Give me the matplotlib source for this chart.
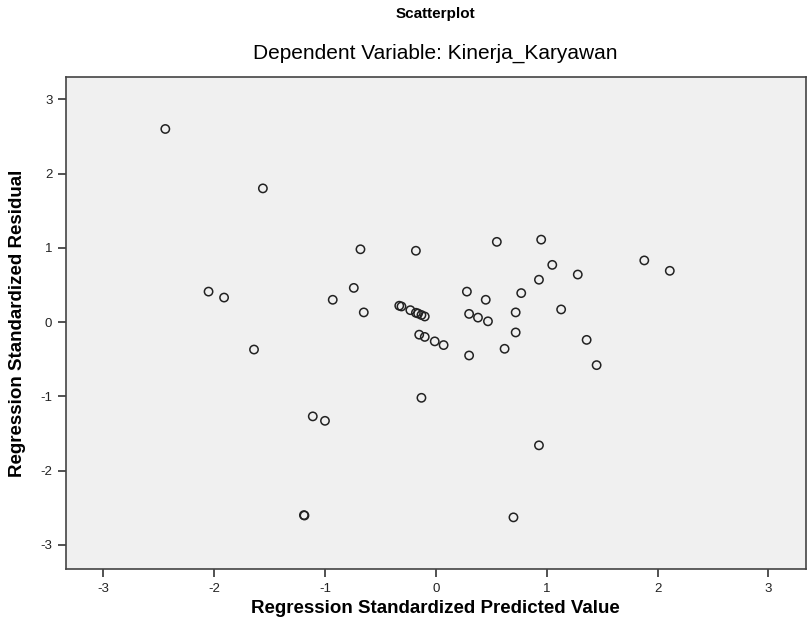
import matplotlib
matplotlib.use("Agg")
import matplotlib.pyplot as plt

plt.rcParams['font.family'] = ['Liberation Sans', 'DejaVu Sans']

pred = [-2.44, -1.56, -0.68, -0.18, 0.55, 0.95, 1.05, 1.88, 2.11, 1.28,
        0.93, 0.77, 0.28, 0.45, 0.72, 1.13, 0.30, 0.38, 0.47, 0.72,
        1.36, 1.45, 0.62, 0.30, -0.13, -2.05, -1.91, -0.93, -0.74, -0.65,
        -0.33, -0.31, -0.23, -0.18, -0.16, -0.13, -0.10,
        -0.15, -0.10, -0.01, 0.07,
        -1.64, -1.11, -1.00, -1.19, -1.185, 0.93, 0.70]
resid = [2.60, 1.80, 0.98, 0.96, 1.08, 1.11, 0.77, 0.83, 0.69, 0.64,
         0.57, 0.39, 0.41, 0.30, 0.13, 0.17, 0.11, 0.06, 0.01, -0.14,
         -0.24, -0.58, -0.36, -0.45, -1.02, 0.41, 0.33, 0.30, 0.46, 0.13,
         0.22, 0.21, 0.16, 0.125, 0.115, 0.095, 0.075,
         -0.17, -0.20, -0.26, -0.31,
         -0.37, -1.27, -1.33, -2.60, -2.605, -1.66, -2.63]
ticks = [-3, -2, -1, 0, 1, 2, 3]

fig = plt.figure(figsize=(8.09, 6.39), dpi=100)
ax = fig.add_axes([0.081, 0.109, 0.9155, 0.7705])
ax.set_facecolor('#f0f0f0')
ax.scatter(pred, resid, s=36, facecolors='none', edgecolors='#222222', linewidths=1.1, zorder=3)
ax.set_xlim(-3.34, 3.34)
ax.set_ylim(-3.33, 3.30)
ax.set_xticks(ticks)
ax.set_yticks(ticks)
ax.set_xticklabels([str(t) for t in ticks])
ax.set_yticklabels([str(t) for t in ticks])
ax.tick_params(direction='out', length=6, width=1.2, colors='#333333', labelsize=9.5, labelcolor='#222222')
for sp in ax.spines.values():
    sp.set_color('#444444')
    sp.set_linewidth(1.2)

fig.text(0.538, 0.978, 'Scatterplot', ha='center', va='center', fontsize=11, fontweight='bold')
fig.text(0.538, 0.917, 'Dependent Variable: Kinerja_Karyawan', ha='center', va='center', fontsize=15)
fig.text(0.538, 0.0485, 'Regression Standardized Predicted Value', ha='center', va='center', fontsize=13.5, fontweight='bold')
fig.text(0.022, 0.494, 'Regression Standardized Residual', ha='center', va='center', rotation=90, fontsize=13.5, fontweight='bold')

fig.savefig('out.png', dpi=100)
